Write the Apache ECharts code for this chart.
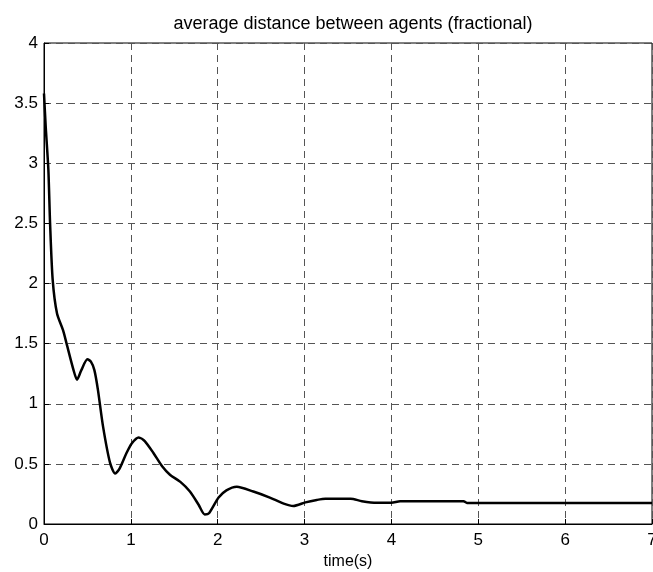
<!DOCTYPE html>
<html>
<head>
<meta charset="utf-8">
<script src="https://cdn.jsdelivr.net/npm/echarts@6/dist/echarts.min.js"></script>
<style>
html,body{margin:0;padding:0;background:#fff;}
#chart{width:653px;height:572px;}
</style>
</head>
<body>
<div id="chart"></div>
<script>
// data
var titleText = 'average distance between agents (fractional)';
var xName = 'time(s)';
var timeValues = [0, 0.02, 0.05, 0.07, 0.10, 0.15, 0.22, 0.26, 0.34, 0.38, 0.43, 0.50, 0.54, 0.58, 0.62, 0.68, 0.76, 0.82, 0.87, 0.95, 1.01, 1.09, 1.16, 1.26, 1.36, 1.45, 1.57, 1.68, 1.78, 1.85, 1.90, 2.01, 2.10, 2.22, 2.41, 2.60, 2.76, 2.87, 3.01, 3.14, 3.24, 3.53, 3.66, 3.83, 4.00, 4.10, 4.83, 4.87, 7.00];
var distValues = [3.58, 3.30, 2.95, 2.50, 2.03, 1.75, 1.61, 1.50, 1.28, 1.20, 1.28, 1.37, 1.35, 1.28, 1.12, 0.81, 0.51, 0.42, 0.46, 0.59, 0.67, 0.72, 0.69, 0.59, 0.48, 0.41, 0.35, 0.27, 0.16, 0.08, 0.09, 0.22, 0.28, 0.31, 0.27, 0.22, 0.17, 0.15, 0.18, 0.20, 0.21, 0.21, 0.19, 0.177, 0.177, 0.19, 0.19, 0.175, 0.175];
var xMin = 0, xMax = 7, xStep = 1;
var yMin = 0, yMax = 4, yStep = 0.5;

var seriesData = timeValues.map(function (t, i) { return [t, distValues[i]]; });

var chart = echarts.init(document.getElementById('chart'), null, {renderer: 'canvas'});
var fontFam = '"Liberation Sans", Arial, sans-serif';
var gridLine = {show: true, lineStyle: {color: '#555', width: 1, type: [7, 5]}};
chart.setOption({
  animation: false,
  backgroundColor: '#fff',
  title: {
    text: titleText,
    left: 348,
    top: 10,
    textAlign: 'center',
    textStyle: {fontFamily: fontFam, fontSize: 18, fontWeight: 'normal', color: '#000'}
  },
  grid: {left: 44, right: 1, top: 43, bottom: 48, show: true, borderColor: '#000', borderWidth: 1, backgroundColor: 'transparent', containLabel: false, outerBoundsMode: 'none'},
  xAxis: {
    type: 'value', min: xMin, max: xMax, interval: xStep,
    name: xName, nameLocation: 'middle', nameGap: 30,
    nameTextStyle: {fontFamily: fontFam, fontSize: 16, color: '#000'},
    axisLine: {show: true, lineStyle: {color: '#000', width: 1}},
    axisTick: {show: true, inside: true, length: 5, lineStyle: {color: '#000'}},
    axisLabel: {fontFamily: fontFam, fontSize: 17, color: '#000', margin: 8, showMaxLabel: true, hideOverlap: false},
    splitLine: gridLine
  },
  yAxis: {
    type: 'value', min: yMin, max: yMax, interval: yStep,
    axisLine: {show: true, lineStyle: {color: '#000', width: 1}},
    axisTick: {show: true, inside: true, length: 5, lineStyle: {color: '#000'}},
    axisLabel: {fontFamily: fontFam, fontSize: 17, color: '#000', margin: 6},
    splitLine: gridLine
  },
  series: [{
    type: 'line',
    data: seriesData,
    showSymbol: false,
    smooth: 0.25,
    lineStyle: {color: '#000', width: 2.5},
    clip: true
  }]
});
</script>
</body>
</html>
